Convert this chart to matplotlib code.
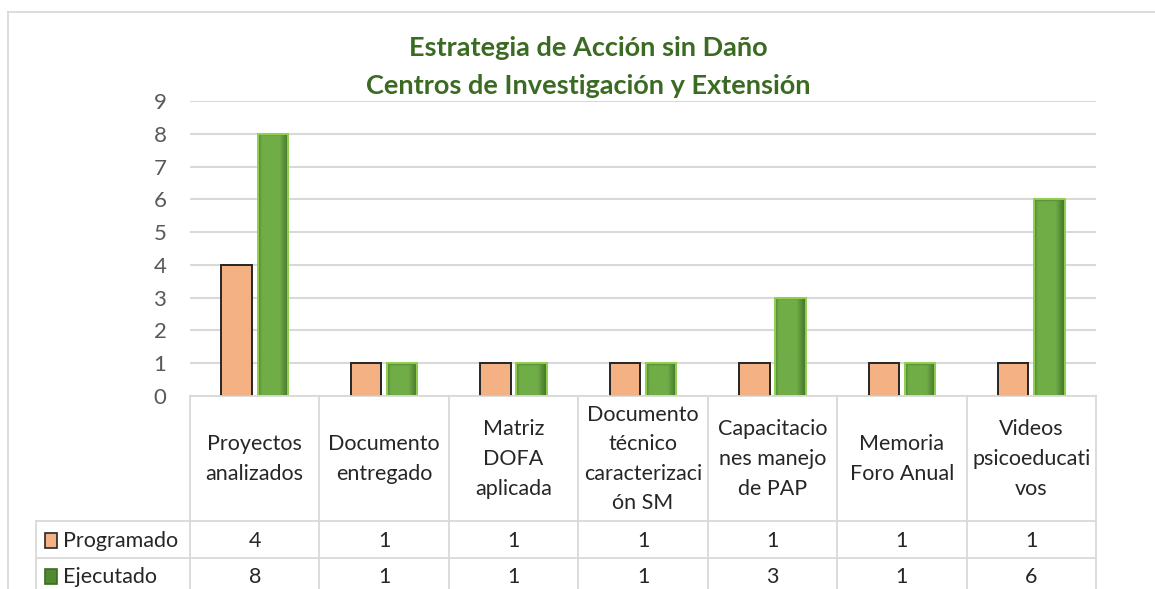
import matplotlib
matplotlib.use('Agg')
import matplotlib.pyplot as plt
import numpy as np
from matplotlib.lines import Line2D
from matplotlib.patches import Rectangle
import matplotlib.transforms as mtransforms

categories = ["Proyectos\nanalizados", "Documento\nentregado", "Matriz\nDOFA\naplicada",
              "Documento\ntécnico\ncaracterizaci\nón SM", "Capacitacio\nnes manejo\nde PAP",
              "Memoria\nForo Anual", "Videos\npsicoeducati\nvos"]
programado = [4, 1, 1, 1, 1, 1, 1]
ejecutado = [8, 1, 1, 1, 3, 1, 6]
series_names = ["Programado", "Ejecutado"]
title = "Estrategia de Acción sin Daño\nCentros de Investigación y Extensión"
yticks = list(range(0, 10))

plt.rcParams['font.family'] = ['Lato', 'DejaVu Sans']

W, H = 1155, 589
fig = plt.figure(figsize=(W / 100, H / 100), dpi=100)
fig.patch.set_facecolor('white')

def fx(px):
    return px / W

def fy(py):
    return 1 - py / H

grid_c = '#d9d9d9'
txt_c = '#262626'
ORANGE = '#F4B183'
GREEN = '#70AD47'
FS = 15.5

# outer chart border
fig.add_artist(Line2D([fx(8), fx(8)], [fy(12), 0], color=grid_c, lw=1.3))
fig.add_artist(Line2D([fx(8), 1], [fy(12), fy(12)], color=grid_c, lw=1.3))

# title
fig.text(fx(588), fy(67), title, ha='center', va='center', fontsize=19.5, fontweight='bold',
         color='#3B6B22', linespacing=1.65)

ax = fig.add_axes([fx(190), fy(396), fx(1096) - fx(190), fy(101) - fy(396)])
n = len(categories)
x = np.arange(n)
bw = 0.235
off = 0.14

bars_p = ax.bar(x - off, programado, bw, color=ORANGE, edgecolor='#262626', lw=1.4, zorder=3)
bars_e = ax.bar(x + off, ejecutado, bw, color=GREEN, edgecolor='#92D050', lw=1.4, zorder=3)

# inner shading on green bars
base = np.array(matplotlib.colors.to_rgb(GREEN))
dark = np.array(matplotlib.colors.to_rgb('#3E6B25'))
for p in bars_e:
    x0, w, h = p.get_x(), p.get_width(), p.get_height()
    hp = max(int(h * 40), 10)
    u = np.linspace(0, 1, 60)
    v = np.linspace(0, 1, hp)
    fxp = np.clip(1 - u / 0.12, 0, 1) * 0.6 + np.clip((u - 0.70) / 0.30, 0, 1) * 0.9
    fyp = np.clip((v - (1 - 0.07 / h)) / (0.07 / h), 0, 1) * 0.75
    f = np.maximum(fxp[None, :], fyp[:, None])
    img = base[None, None, :] * (1 - f[..., None]) + dark[None, None, :] * f[..., None]
    im = ax.imshow(img, extent=(x0, x0 + w, 0, h), origin='lower', aspect='auto', zorder=3.5,
                   interpolation='bilinear')
    im.set_clip_path(p)
    ax.add_patch(Rectangle((x0, 0), w, h, fill=False, edgecolor='#92D050', lw=1.4, zorder=4))

ax.set_xlim(-0.5, n - 0.5)
ax.set_ylim(0, 9)
ax.set_yticks(yticks)
ax.set_yticklabels([str(t) for t in yticks])
ax.grid(axis='y', color=grid_c, lw=1.5, zorder=0)
ax.set_axisbelow(True)
for s in ax.spines.values():
    s.set_visible(False)
ax.tick_params(axis='y', length=0, labelsize=16, labelcolor='#595959', pad=17)
ax.set_xticks([])

# data table
tr = mtransforms.blended_transform_factory(ax.transData, fig.transFigure)
for i in range(n + 1):
    fig.add_artist(Line2D([i - 0.5, i - 0.5], [fy(396), 0], transform=tr, color=grid_c, lw=1.3))
fig.add_artist(Line2D([-0.5, n - 0.5], [fy(396), fy(396)], transform=tr, color=grid_c, lw=1.3))
for yy in (521, 558):
    fig.add_artist(Line2D([fx(36), fx(1096)], [fy(yy), fy(yy)], color=grid_c, lw=1.3))
fig.add_artist(Line2D([fx(36), fx(36)], [fy(521), 0], color=grid_c, lw=1.3))

for i, c in enumerate(categories):
    fig.text(i, fy(459), c, transform=tr, ha='center', va='center', fontsize=FS,
             color=txt_c, linespacing=1.6)
    fig.text(i, fy(541), str(programado[i]), transform=tr, ha='center', va='center',
             fontsize=FS, color=txt_c)
    fig.text(i, fy(577), str(ejecutado[i]), transform=tr, ha='center', va='center',
             fontsize=FS, color=txt_c)

# legend keys
fig.add_artist(Rectangle((fx(45), fy(548)), fx(12), fy(533) - fy(548), transform=fig.transFigure,
                         facecolor=ORANGE, edgecolor='#262626', lw=1.2))
fig.add_artist(Rectangle((fx(45), fy(584)), fx(12), fy(569) - fy(584), transform=fig.transFigure,
                         facecolor='#4E8A2E', edgecolor='#3E6B25', lw=1.2))
fig.text(fx(63), fy(541), series_names[0], ha='left', va='center', fontsize=FS, color=txt_c)
fig.text(fx(63), fy(577), series_names[1], ha='left', va='center', fontsize=FS, color=txt_c)

fig.savefig('out.png', dpi=100, facecolor='white')
